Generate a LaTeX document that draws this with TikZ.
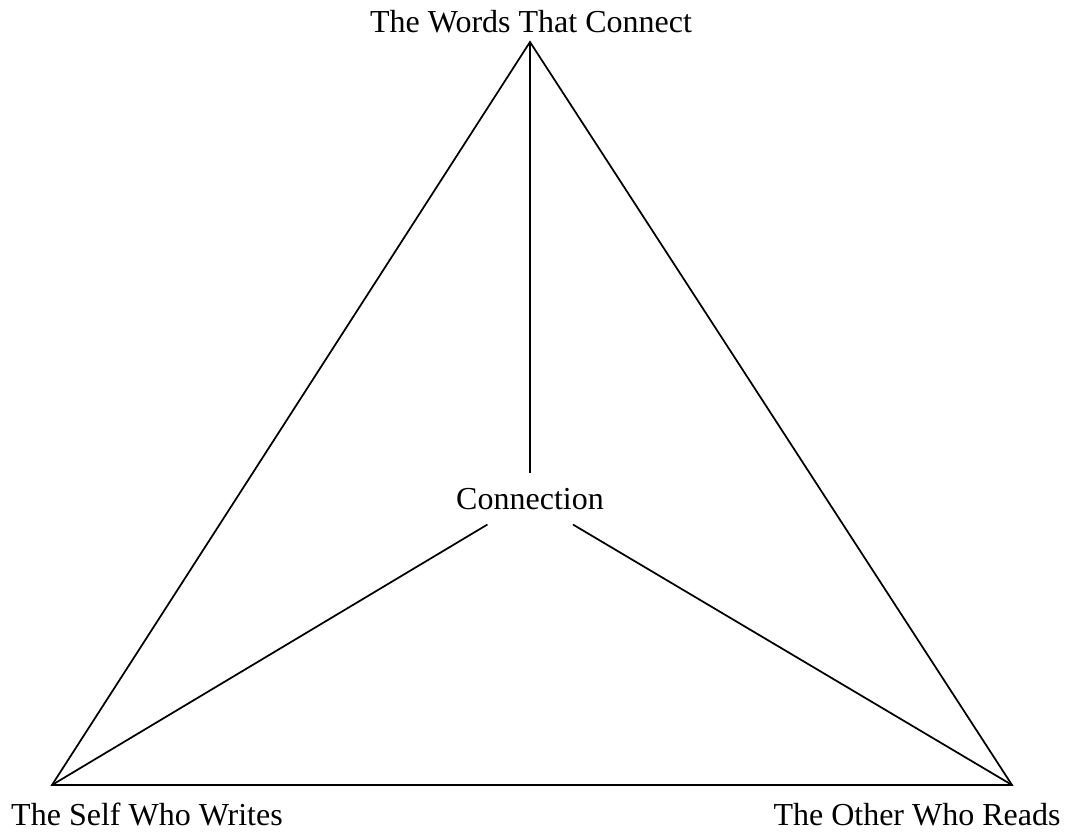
\documentclass[tikz,border=0pt]{standalone}
\usepackage{fontspec}
\setmainfont{Liberation Serif}

\begin{document}
\begin{tikzpicture}[x=0.75pt, y=0.75pt, line width=1.3pt]

% Stili
\tikzset{
  lab/.style={font=\fontsize{24}{28}\selectfont, inner sep=0pt, anchor=base},
  core/.style={font=\fontsize{24}{28}\selectfont, inner xsep=1pt, minimum height=37pt}
}

% Cornice
\useasboundingbox (0,0) rectangle (1070,836);

% Vertici del triangolo
\coordinate (words) at (530,794);
\coordinate (self) at (52,51);
\coordinate (other) at (1012,51);

% Centro
\node[core] (conn) at (530,337) {Connection};

% Etichette
\node[lab] (wordsLab) at (531,803) {The Words That Connect};
\node[lab] (selfLab) at (147,11) {The Self Who Writes};
\node[lab] (otherLab) at (917,11) {The Other Who Reads};

% Lati
\draw (words) -- (self) -- (other) -- cycle;

% Raggi verso il centro
\draw (conn) -- (words);
\draw (conn) -- (self);
\draw (conn) -- (other);

\end{tikzpicture}
\end{document}
